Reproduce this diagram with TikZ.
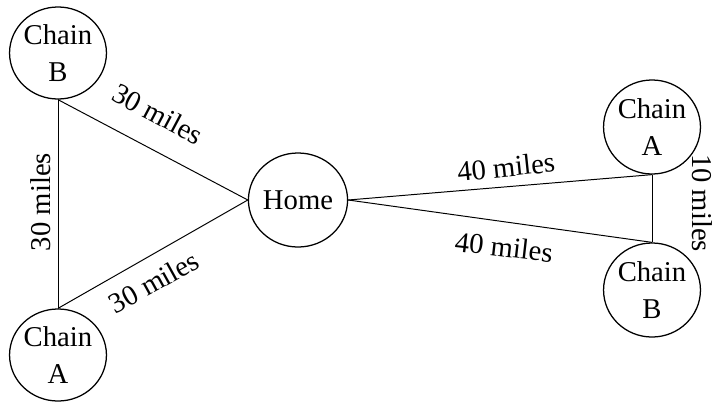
\documentclass[tikz,border=0pt]{standalone}
\usepackage{fontspec}
\setmainfont{Liberation Serif}
\usetikzlibrary{shapes.geometric}
\begin{document}
\begin{tikzpicture}[x=0.025cm,y=-0.025cm,
  site/.style={draw, ellipse, line width=0.9pt, inner sep=0pt, align=center,
    font=\fontsize{20.4}{26}\selectfont, minimum width=2.175cm, minimum height=2.3cm},
  narrow/.style={minimum width=1.95cm, minimum height=2.35cm},
  road/.style={line width=0.7pt},
  lbl/.style={font=\fontsize{20.4}{24}\selectfont, inner sep=0pt}
]
\useasboundingbox (0,0) rectangle (715,402);
\node[site] (B1) at (58,53) {Chain\\B};
\node[site] (A1) at (58,355) {Chain\\A};
\node[site, minimum height=2.35cm] (H) at (298,200) {Home};
\node[site, narrow] (A2) at (652,127) {Chain\\A};
\node[site, narrow] (B2) at (652,290) {Chain\\B};

\draw[road] (B1.south) -- (A1.north);
\draw[road] (B1.south) -- (H.west);
\draw[road] (A1.north) -- (H.west);
\draw[road] (H.east) -- (A2.south);
\draw[road] (H.east) -- (B2.north);
\draw[road] (A2.south) -- (B2.north);

\node[lbl, rotate=-28] (l1) at (158,114) {30 miles};
\node[lbl, rotate=90] (l2) at (41,202) {30 miles};
\node[lbl, rotate=29] (l3) at (154,282) {30 miles};
\node[lbl, rotate=6] (l4) at (506,167) {40 miles};
\node[lbl, rotate=-6.5] (l5) at (504,247) {40 miles};
\node[lbl, rotate=-90] (l6) at (702,203) {10 miles};
\end{tikzpicture}
\end{document}
